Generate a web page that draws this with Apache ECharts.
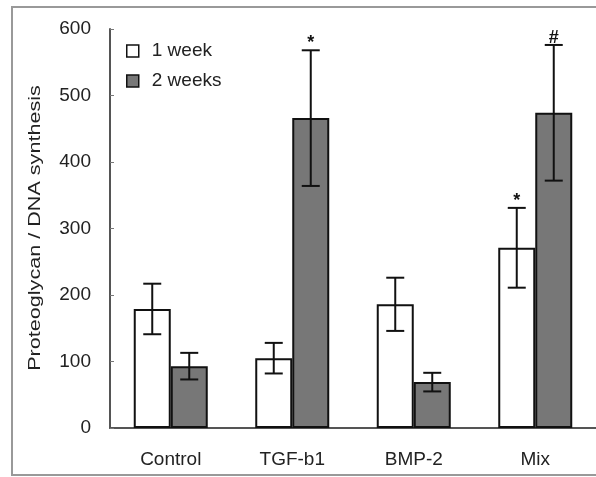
<!DOCTYPE html>
<html>
<head>
<meta charset="utf-8">
<script src="https://cdn.jsdelivr.net/npm/echarts@6/dist/echarts.min.js"></script>
<style>html,body{margin:0;padding:0;background:#fff}#c{width:596px;height:477px}</style>
</head>
<body>
<div id="c"></div>
<script>
const categories = ['Control', 'TGF-b1', 'BMP-2', 'Mix'];
const seriesNames = ['1 week', '2 weeks'];
const week1 = [179, 105, 186, 271];
const week1Err = [38, 23, 40, 60];
const week1Sig = ['', '', '', '*'];
const week2 = [93, 466, 69, 474];
const week2Err = [20, 102, 14, 102];
const week2Sig = ['', '*', '', '#'];
const yTicks = [0, 100, 200, 300, 400, 500, 600];
const yTitle = 'Proteoglycan / DNA synthesis';

const BAR_W = 37;
const FONT = '"Liberation Sans", Arial, sans-serif';

function errSeries(vals, errs, sigs, offset) {
  return {
    type: 'custom',
    z: 5,
    data: vals.map((v, i) => [i, v, errs[i]]),
    renderItem: function (params, api) {
      const x = api.value(0), v = api.value(1), e = api.value(2);
      const sig = sigs[params.dataIndex];
      const hi = api.coord([x, v + e]);
      const lo = api.coord([x, v - e]);
      const cx = hi[0] + offset;
      const hw = 9;
      const st = { stroke: '#111', lineWidth: 2 };
      const children = [
        { type: 'line', shape: { x1: cx, y1: hi[1], x2: cx, y2: lo[1] }, style: st },
        { type: 'line', shape: { x1: cx - hw, y1: hi[1], x2: cx + hw, y2: hi[1] }, style: st },
        { type: 'line', shape: { x1: cx - hw, y1: lo[1], x2: cx + hw, y2: lo[1] }, style: st }
      ];
      if (sig) {
        children.push({ type: 'text', style: { text: sig, x: cx, y: hi[1] + 2, align: 'center', verticalAlign: 'bottom', font: 'bold 18px ' + FONT, fill: '#111' } });
      }
      return { type: 'group', children: children };
    }
  };
}

const chart = echarts.init(document.getElementById('c'));
chart.setOption({
  animation: false,
  backgroundColor: '#fff',
  grid: { left: 110, right: -3, top: 29, bottom: 49 },
  legend: {
    orient: 'vertical',
    left: 121, top: 36,
    itemWidth: 12, itemHeight: 12, itemGap: 10,
    icon: 'rect',
    data: seriesNames,
    itemStyle: { borderColor: '#111', borderWidth: 1.5 },
    textStyle: { fontFamily: FONT, fontSize: 19, color: '#222', lineHeight: 20, padding: [0, 0, 0, 8] }
  },
  xAxis: {
    type: 'category',
    data: categories,
    axisLine: { lineStyle: { color: '#555', width: 2 } },
    axisTick: { inside: true, length: 4, lineStyle: { color: '#777' } },
    axisLabel: { fontFamily: FONT, fontSize: 19, color: '#222', margin: 22 }
  },
  yAxis: {
    type: 'value',
    min: yTicks[0], max: yTicks[yTicks.length - 1], interval: 100,
    splitLine: { show: false },
    axisLine: { show: true, lineStyle: { color: '#555', width: 2 } },
    axisTick: { show: true, inside: true, length: 4, lineStyle: { color: '#777' } },
    axisLabel: { fontFamily: FONT, fontSize: 19, color: '#222', margin: 19 }
  },
  graphic: [
    { type: 'rect', z: -1, shape: { x: 12, y: 7, width: 600, height: 468 }, style: { fill: 'none', stroke: '#999', lineWidth: 2 } },
    { type: 'text', x: 36, y: 228, rotation: Math.PI / 2, scaleX: 1.35, style: { text: yTitle, font: '16px ' + FONT, fill: '#222', align: 'center', verticalAlign: 'middle' } }
  ],
  series: [
    { name: seriesNames[0], type: 'bar', data: week1, barWidth: BAR_W, barGap: '0%', itemStyle: { color: '#ffffff', borderColor: '#111', borderWidth: 2 } },
    { name: seriesNames[1], type: 'bar', data: week2, barWidth: BAR_W, barGap: '0%', itemStyle: { color: '#777777', borderColor: '#111', borderWidth: 2 } },
    errSeries(week1, week1Err, week1Sig, -BAR_W / 2),
    errSeries(week2, week2Err, week2Sig, BAR_W / 2)
  ]
});
</script>
</body>
</html>
